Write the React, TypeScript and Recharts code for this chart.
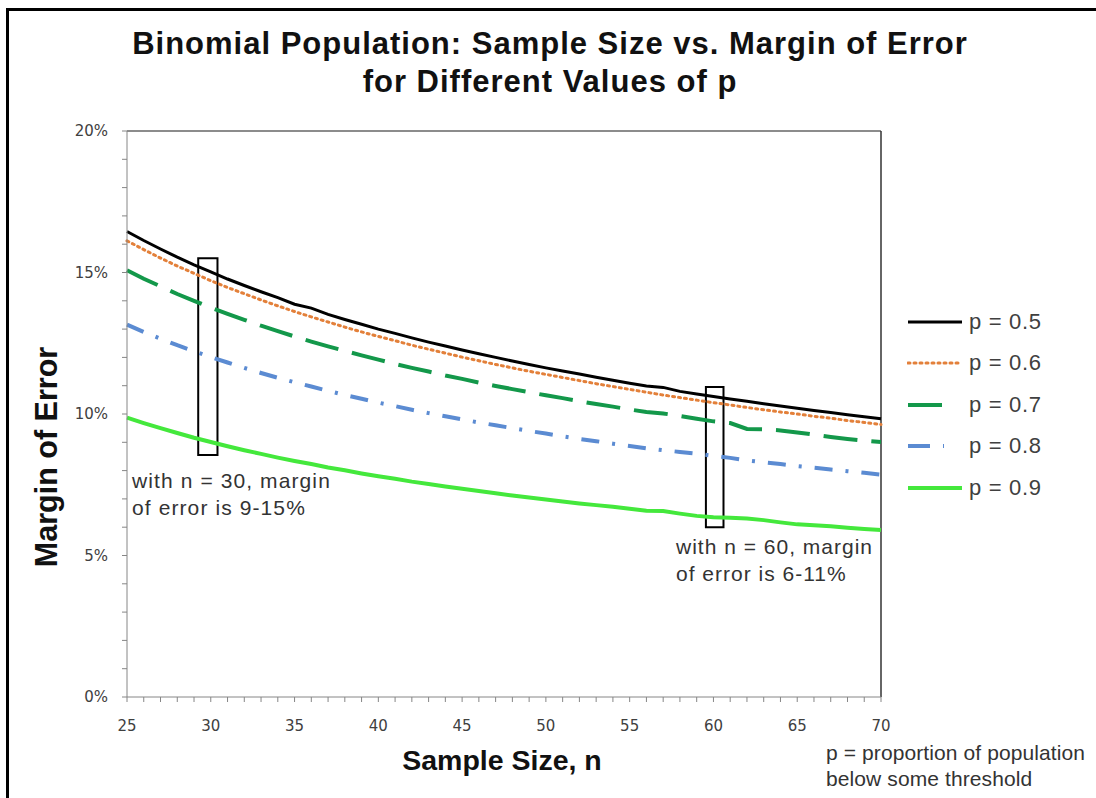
import { LineChart, Line, XAxis, YAxis, ReferenceLine, ReferenceArea } from "recharts";

// sample sizes n = 25..70
const sizes = [
  25, 26, 27, 28, 29, 30, 31, 32, 33, 34,
  35, 36, 37, 38, 39, 40, 41, 42, 43, 44,
  45, 46, 47, 48, 49, 50, 51, 52, 53, 54,
  55, 56, 57, 58, 59, 60, 61, 62, 63, 64,
  65, 66, 67, 68, 69, 70,
];

// margin of error, in percent
const p05 = [
  16.45, 16.13, 15.83, 15.54, 15.27, 15.02, 14.77, 14.54, 14.32, 14.11,
  13.88, 13.74, 13.52, 13.34, 13.17, 13.0, 12.85, 12.69, 12.54, 12.4,
  12.26, 12.13, 12.0, 11.87, 11.75, 11.63, 11.52, 11.41, 11.3, 11.19,
  11.09, 10.99, 10.94, 10.8, 10.71, 10.62, 10.53, 10.45, 10.36, 10.28,
  10.2, 10.12, 10.05, 9.97, 9.9, 9.83,
];
const p06 = [
  16.12, 15.81, 15.51, 15.23, 14.97, 14.71, 14.47, 14.25, 14.03, 13.82,
  13.62, 13.43, 13.25, 13.07, 12.9, 12.74, 12.59, 12.43, 12.29, 12.15,
  12.01, 11.88, 11.75, 11.63, 11.51, 11.4, 11.29, 11.18, 11.07, 10.97,
  10.87, 10.77, 10.67, 10.58, 10.49, 10.4, 10.32, 10.23, 10.15, 10.07,
  10.0, 9.92, 9.85, 9.77, 9.7, 9.63,
];
const p07 = [
  15.08, 14.78, 14.51, 14.24, 14.0, 13.76, 13.54, 13.33, 13.12, 12.93,
  12.74, 12.56, 12.39, 12.23, 12.07, 11.92, 11.77, 11.63, 11.5, 11.36,
  11.24, 11.11, 10.99, 10.88, 10.77, 10.66, 10.56, 10.45, 10.35, 10.26,
  10.16, 10.07, 10.02, 9.93, 9.83, 9.74, 9.68, 9.47, 9.46, 9.42,
  9.35, 9.27, 9.19, 9.12, 9.06, 9.01,
];
const p08 = [
  13.16, 12.9, 12.66, 12.43, 12.22, 12.01, 11.82, 11.63, 11.45, 11.28,
  11.12, 10.97, 10.82, 10.67, 10.54, 10.4, 10.28, 10.15, 10.03, 9.92,
  9.81, 9.7, 9.6, 9.5, 9.4, 9.31, 9.21, 9.12, 9.04, 8.95,
  8.87, 8.79, 8.72, 8.66, 8.6, 8.52, 8.45, 8.36, 8.29, 8.23,
  8.16, 8.1, 8.04, 7.98, 7.92, 7.86,
];
const p09 = [
  9.87, 9.68, 9.5, 9.33, 9.16, 9.01, 8.86, 8.72, 8.59, 8.46,
  8.34, 8.23, 8.11, 8.01, 7.9, 7.8, 7.71, 7.61, 7.53, 7.44,
  7.36, 7.28, 7.2, 7.12, 7.05, 6.98, 6.91, 6.84, 6.78, 6.72,
  6.65, 6.58, 6.57, 6.48, 6.4, 6.35, 6.33, 6.31, 6.25, 6.17,
  6.1, 6.07, 6.03, 5.98, 5.94, 5.9,
];

const xTicks = sizes;
const yTicks = [0, 1, 2, 3, 4, 5, 6, 7, 8, 9, 10, 11, 12, 13, 14, 15, 16, 17, 18, 19, 20];

// highlighted boxes: [n from, n to, moe from, moe to]
const boxes = [
  [29.25, 30.4, 8.55, 15.5],
  [59.55, 60.6, 6.0, 10.95],
];

const data = sizes.map((n, i) => ({ n, p05: p05[i], p06: p06[i], p07: p07[i], p08: p08[i], p09: p09[i] }));

const series = [
  { key: "p05", name: "p = 0.5", color: "#000000", width: 3, dash: undefined, cap: "butt", sample: 55 },
  { key: "p06", name: "p = 0.6", color: "#E3803A", width: 3, dash: "2 4", cap: "round", sample: 52 },
  { key: "p07", name: "p = 0.7", color: "#13984A", width: 4, dash: "34 14", cap: "butt", sample: 37 },
  { key: "p08", name: "p = 0.8", color: "#5B8BD2", width: 4, dash: "18 13 3 13", cap: "butt", sample: 37 },
  { key: "p09", name: "p = 0.9", color: "#44E83C", width: 4, dash: undefined, cap: "butt", sample: 55 },
];

const sans = "'Liberation Sans', Arial, sans-serif";

function LegendBox() {
  return (
    <div style={{ position: "absolute", left: 907, top: 301, fontFamily: sans, fontSize: 22, letterSpacing: 0.7, color: "#404040" }}>
      {series.map(s => (
        <div key={s.key} style={{ display: "flex", alignItems: "center", height: 41.5 }}>
          <svg width={62} height={10}>
            <line x1={1} y1={5} x2={s.sample} y2={5} stroke={s.color} strokeWidth={s.width}
              strokeDasharray={s.key === "p08" ? "22 13 3 40" : s.dash} strokeLinecap={s.cap as any} />
          </svg>
          <span>{s.name}</span>
        </div>
      ))}
    </div>
  );
}

export default function App() {
  const fmtY = (v: number) => (v % 5 === 0 ? v + "%" : "");
  const fmtX = (v: number) => (v % 5 === 0 ? String(v) : "");
  return (
    <div style={{ position: "fixed", left: 0, top: 0, width: 1096, height: 798, background: "#fff", overflow: "hidden" }}>
      <div style={{ position: "absolute", left: 6, top: 8, right: 0, bottom: 0, borderLeft: "3px solid #000", borderTop: "3px solid #000" }} />
      <div style={{ position: "absolute", left: 0, width: 1100, top: 25, textAlign: "center", fontFamily: sans, fontWeight: "bold", fontSize: 31, letterSpacing: 1, lineHeight: "38px", color: "#111" }}>
        <div>Binomial Population: Sample Size vs. Margin of Error</div>
        <div>for Different Values of p</div>
      </div>
      <div style={{ position: "absolute", left: 46, top: 457, transform: "translate(-50%,-50%) rotate(-90deg)", whiteSpace: "nowrap", fontFamily: sans, fontWeight: "bold", fontSize: 30.5, color: "#111" }}>
        Margin of Error
      </div>
      <div style={{ position: "absolute", left: 502, top: 760, transform: "translate(-50%,-50%)", whiteSpace: "nowrap", fontFamily: sans, fontWeight: "bold", fontSize: 28.5, color: "#111" }}>
        Sample Size, n
      </div>
      <div style={{ position: "absolute", left: 132, top: 467, fontFamily: sans, fontSize: 21, letterSpacing: 1.1, lineHeight: "27px", color: "#333" }}>
        with n = 30, margin<br />of error is 9-15%
      </div>
      <div style={{ position: "absolute", left: 676, top: 533, fontFamily: sans, fontSize: 21, letterSpacing: 1, lineHeight: "27px", color: "#333" }}>
        with n = 60, margin<br />of error is 6-11%
      </div>
      <div style={{ position: "absolute", left: 826, top: 740, whiteSpace: "nowrap", fontFamily: sans, fontSize: 21, letterSpacing: 0.1, lineHeight: "26px", color: "#333" }}>
        p = proportion of population<br />below some threshold
      </div>
      <div style={{ position: "absolute", left: 0, top: 0 }}>
        <LineChart width={1096} height={798} data={data} margin={{ top: 131, right: 215, bottom: 71, left: 67 }}>
          <XAxis dataKey="n" type="number" domain={[25, 70]} ticks={xTicks} interval={0} tickFormatter={fmtX}
            height={30} stroke="#868686" tickSize={5} tickMargin={18}
            tick={{ fill: "#404040", fontSize: 15, fontFamily: "'DejaVu Sans', sans-serif" }} />
          <YAxis type="number" domain={[0, 20]} ticks={yTicks} interval={0} tickFormatter={fmtY}
            width={60} stroke="#868686" tickSize={5} tickMargin={14}
            tick={{ fill: "#404040", fontSize: 15, fontFamily: "'DejaVu Sans', sans-serif" }} />
          <ReferenceLine y={20} stroke="#666" strokeWidth={1.5} />
          <ReferenceLine x={70} stroke="#333" strokeWidth={1.5} />
          {series.slice().reverse().map(s => (
            <Line key={s.key} type="linear" dataKey={s.key} name={s.name} stroke={s.color} strokeWidth={s.width}
              strokeDasharray={s.dash} strokeLinecap={s.cap as any} dot={false} activeDot={false} isAnimationActive={false} />
          ))}
          {boxes.map((b, i) => (
            <ReferenceArea key={i} x1={b[0]} x2={b[1]} y1={b[2]} y2={b[3]} stroke="#000" strokeWidth={2} fill="#fff" fillOpacity={0} />
          ))}
        </LineChart>
      </div>
      <LegendBox />
    </div>
  );
}
